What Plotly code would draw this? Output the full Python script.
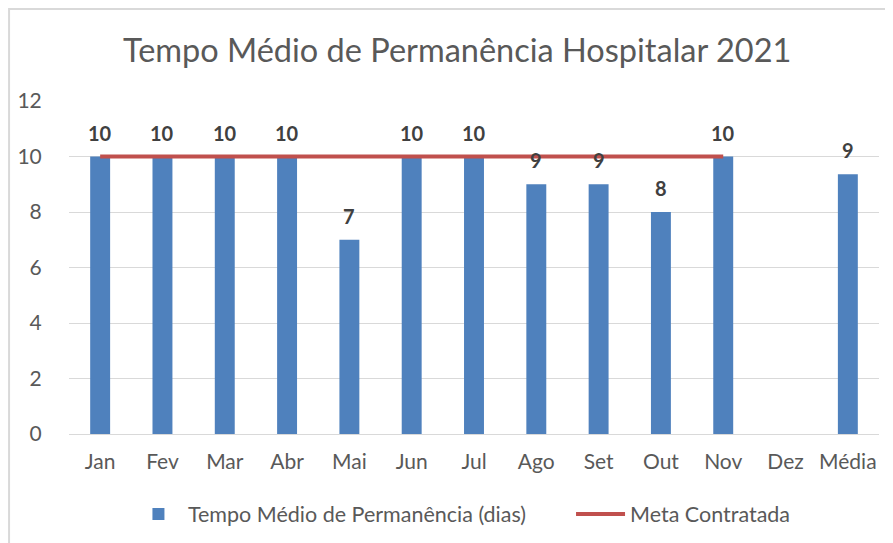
import plotly.graph_objects as go

categories = ["Jan", "Fev", "Mar", "Abr", "Mai", "Jun", "Jul", "Ago", "Set", "Out", "Nov", "Dez", "Média"]
tempo_medio = [10, 10, 10, 10, 7, 10, 10, 9, 9, 8, 10, None, 9.36]
meta = [10, 10, 10, 10, 10, 10, 10, 10, 10, 10, 10, None, None]
y_ticks = [0, 2, 4, 6, 8, 10, 12]

FONT = "Lato, Open Sans, sans-serif"

fig = go.Figure()
fig.add_trace(go.Bar(
    x=categories, y=tempo_medio, name="Tempo Médio de Permanência (dias)",
    marker=dict(color="#4F81BD", line=dict(width=0)), width=0.32, legend="legend",
))
fig.add_trace(go.Scatter(
    x=categories, y=meta, name="Meta Contratada", mode="lines",
    line=dict(color="#C0504D", width=4), connectgaps=False, legend="legend2",
))

for c, v in zip(categories, tempo_medio):
    if v is None:
        continue
    fig.add_annotation(x=c, y=v, text=f"<b>{round(v)}</b>", showarrow=False,
                       yshift=24, font=dict(family=FONT, size=20, color="#404040"))

fig.add_shape(type="rect", xref="paper", yref="paper", x0=-0.074, y0=-0.6, x1=1.2, y1=1.276,
              line=dict(color="#D9D9D9", width=2), fillcolor="rgba(0,0,0,0)", layer="below")

legend_common = dict(orientation="h", xanchor="left", y=-0.24, yanchor="middle",
                     font=dict(family=FONT, size=21.5, color="#595959"), itemwidth=49)

fig.update_layout(
    width=893, height=543,
    paper_bgcolor="white", plot_bgcolor="white",
    margin=dict(l=61, r=22, t=93, b=117, autoexpand=False),
    title=dict(text="Tempo Médio de Permanência Hospitalar 2021", x=0.503, xanchor="center",
               y=0.922, yanchor="middle",
               font=dict(family=FONT, size=32.5, color="#595959")),
    font=dict(family=FONT, size=21, color="#595959"),
    showlegend=True,
    legend=dict(x=0.074, **legend_common),
    legend2=dict(x=0.6198, **legend_common),
    xaxis=dict(type="category", showgrid=False, showline=True, linecolor="#D9D9D9", linewidth=1,
               ticks="outside", ticklen=9, tickcolor="rgba(0,0,0,0)", automargin=False,
               tickfont=dict(family=FONT, size=21, color="#595959")),
    yaxis=dict(range=[0, 12], tickvals=y_ticks, showgrid=True, gridcolor="#D9D9D9", gridwidth=1,
               zeroline=False, showline=False, ticks="outside", ticklen=22, tickcolor="rgba(0,0,0,0)",
               automargin=False,
               tickfont=dict(family=FONT, size=21, color="#595959")),
)

fig.write_html("out.html")
